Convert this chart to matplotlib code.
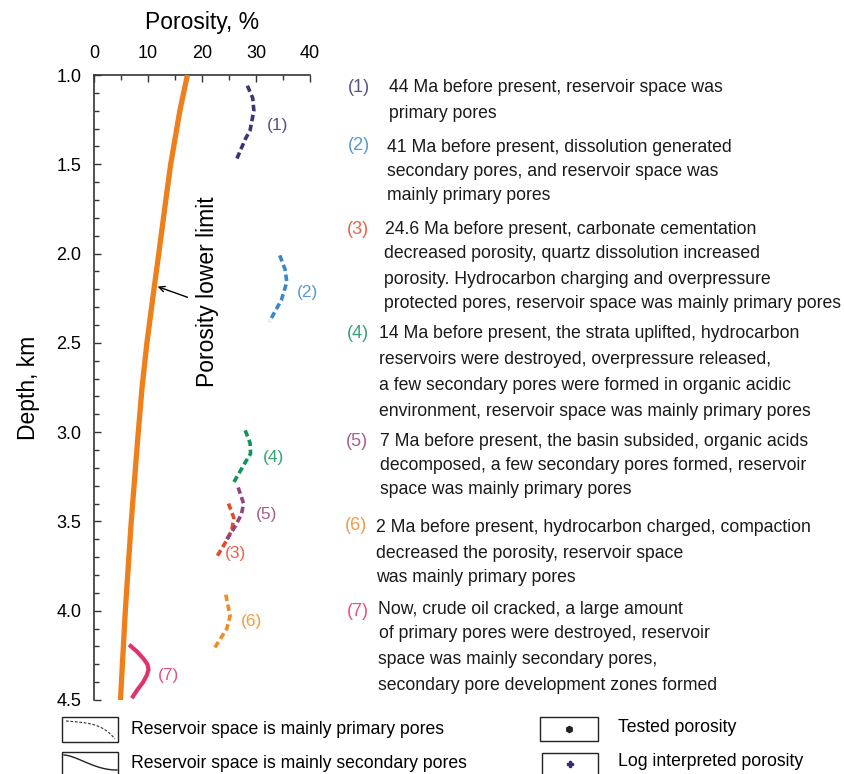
import numpy as np
import matplotlib
matplotlib.use("Agg")
import matplotlib.pyplot as plt
from matplotlib.patches import Rectangle
from matplotlib.ticker import MultipleLocator

plt.rcParams['font.family'] = ['Liberation Sans', 'DejaVu Sans']

# porosity lower limit curve (porosity %, depth km)
limit_depth = [1.0, 1.2, 1.5, 1.7, 2.0, 2.2, 2.5, 2.75, 3.0, 3.5, 4.0, 4.5]
limit_poro = [17.3, 15.9, 14.2, 13.3, 12.0, 11.1, 9.8, 8.9, 8.2, 6.9, 5.8, 4.9]

# porosity evolution curves for each stage
stage_ids = ['(1)', '(2)', '(3)', '(4)', '(5)', '(6)', '(7)']
stage_poro = [
    [28.4, 29.4, 29.6, 28.9, 28.0, 26.3],
    [34.4, 35.4, 35.7, 34.7, 32.5],
    [24.9, 25.9, 25.5, 24.3, 22.7],
    [28.0, 28.9, 29.0, 28.0, 25.9],
    [26.7, 27.7, 27.3, 26.1, 24.6],
    [24.4, 25.2, 24.6, 22.1],
    [6.5, 8.0, 9.2, 9.9, 10.1, 9.8, 9.1, 8.1, 7.0],
]
stage_depth = [
    [1.06, 1.13, 1.20, 1.31, 1.36, 1.48],
    [2.01, 2.09, 2.16, 2.26, 2.38],
    [3.40, 3.48, 3.55, 3.62, 3.70],
    [2.99, 3.06, 3.12, 3.17, 3.28],
    [3.31, 3.40, 3.46, 3.53, 3.60],
    [3.91, 4.03, 4.10, 4.22],
    [4.19, 4.23, 4.27, 4.30, 4.33, 4.36, 4.40, 4.44, 4.49],
]
stage_secondary = [False, False, False, False, False, False, True]
stage_colors = ['#3b3570', '#3a88c8', '#e8482a', '#11935a', '#94447c', '#f08c26', '#e0336e']
label_pos = [(34.0, 1.28), (39.5, 2.22), (26.2, 3.68), (33.2, 3.14),
             (32.0, 3.46), (29.2, 4.06), (13.8, 4.36)]

# stage descriptions: (text line, x pixel, y pixel)
stage_text = [
    [("44 Ma before present, reservoir space was", 389, 88),
     ("primary pores", 389, 113)],
    [("41 Ma before present, dissolution generated", 387, 147),
     ("secondary pores, and reservoir space was", 387, 171),
     ("mainly primary pores", 387, 196)],
    [("24.6 Ma before present, carbonate cementation", 385, 229),
     ("decreased porosity, quartz dissolution increased", 384, 254),
     ("porosity. Hydrocarbon charging and overpressure", 384, 279),
     ("protected pores, reservoir space was mainly primary pores", 384, 304)],
    [("14 Ma before present, the strata uplifted, hydrocarbon", 379, 334),
     ("reservoirs were destroyed, overpressure released,", 379, 360),
     ("a few secondary pores were formed in organic acidic", 379, 386),
     ("environment, reservoir space was mainly primary pores", 379, 411)],
    [("7 Ma before present, the basin subsided, organic acids", 380, 442),
     ("decomposed, a few secondary pores formed, reservoir", 380, 466),
     ("space was mainly primary pores", 380, 490)],
    [("2 Ma before present, hydrocarbon charged, compaction", 376, 528),
     ("decreased the porosity, reservoir space", 376, 553),
     ("was mainly primary pores", 376, 578)],
    [("Now, crude oil cracked, a large amount", 378, 609),
     ("of primary pores were destroyed, reservoir", 379, 634),
     ("space was mainly secondary pores,", 378, 660),
     ("secondary pore development zones formed", 378, 686)],
]
stage_text_id_pos = [(348, 88), (348, 146), (347, 229), (347, 334),
                     (346, 442), (345, 526), (347, 611)]

fig = plt.figure(figsize=(8.45, 7.74), dpi=100)
ax = fig.add_axes([94 / 845, 1 - 700 / 774, 216 / 845, 625 / 774])

ax.plot(limit_poro, limit_depth, color='#ef7f1a', lw=3.8, solid_capstyle='butt',
        solid_joinstyle='round', zorder=3)

for pid, xs, ys, sec, col, (lx, ly) in zip(stage_ids, stage_poro, stage_depth,
                                            stage_secondary, stage_colors, label_pos):
    if sec:
        ax.plot(xs, ys, color=col, lw=3.0, solid_capstyle='butt',
                solid_joinstyle='round', zorder=4)
    else:
        ax.plot(xs, ys, color=col, lw=2.6, linestyle=(0, (1.8, 1.0)), zorder=4)
    ax.text(lx, ly, pid, color=col, fontsize=12.5, ha='center', va='center', alpha=0.85)

ax.annotate('', xy=(11.3, 2.18), xytext=(17.8, 2.25),
            arrowprops=dict(arrowstyle='->', color='black', lw=1.0))
ax.text(21.1, 2.215, 'Porosity lower limit', rotation=90, fontsize=16.5,
        ha='center', va='center')

ax.set_xlim(0, 40)
ax.set_ylim(4.5, 1.0)
ax.xaxis.tick_top()
ax.xaxis.set_label_position('top')
ax.set_xlabel('Porosity, %', fontsize=16.5, labelpad=12)
ax.set_ylabel('Depth, km', fontsize=16.5, labelpad=12)
ax.xaxis.set_major_locator(MultipleLocator(10))
ax.xaxis.set_minor_locator(MultipleLocator(5))
ax.yaxis.set_major_locator(MultipleLocator(0.5))
ax.yaxis.set_minor_locator(MultipleLocator(0.1))
ax.set_yticklabels([f'{v:.1f}' for v in ax.get_yticks()])
ax.tick_params(which='both', direction='in', labelsize=13, color='#333333')
ax.tick_params(which='major', length=5, width=1.0, pad=9)
ax.tick_params(which='minor', length=3.5, width=1.0)
for side in ['right', 'bottom']:
    ax.spines[side].set_visible(False)
for side in ['left', 'top']:
    ax.spines[side].set_color('#333333')
    ax.spines[side].set_linewidth(1.2)

# overlay in pixel coordinates for the descriptions and the key
ov = fig.add_axes([0, 0, 1, 1], facecolor='none')
ov.set_xlim(0, 845)
ov.set_ylim(774, 0)
ov.axis('off')

for pid, col, (px, py), lines in zip(stage_ids, stage_colors, stage_text_id_pos, stage_text):
    ov.text(px, py, pid, color=col, fontsize=13, ha='left', va='center', alpha=0.85)
    for txt, tx, ty in lines:
        ov.text(tx, ty, txt, fontsize=12.7, ha='left', va='center', color='#1a1a1a')

# key boxes
ov.add_patch(Rectangle((62, 717), 56, 25, fill=False, lw=1.0, ec='#222222'))
ov.add_patch(Rectangle((62, 752), 56, 30, fill=False, lw=1.0, ec='#222222'))
ov.add_patch(Rectangle((540, 717), 58, 24, fill=False, lw=1.0, ec='#222222'))
ov.add_patch(Rectangle((542, 753), 56, 30, fill=False, lw=1.0, ec='#222222'))

t = np.linspace(0, 1, 40)
ov.plot(66 + 49 * t, 721 + 4 * t + 14 * t ** 4, color='#333333',
        lw=0.8, linestyle=(0, (2.5, 1.5)))
ov.plot(64 + 53 * t, 755 + 15 * (0.5 - 0.5 * np.cos(np.pi * t ** 0.8)), color='#222222', lw=1.0)
ov.plot([569], [729], marker='h', ms=4.5, color='#222222')
ov.plot([570], [764], marker='P', ms=4.5, color='#3b2a70')

ov.text(131, 730, 'Reservoir space is mainly primary pores', fontsize=12.7, ha='left', va='center')
ov.text(131, 763, 'Reservoir space is mainly secondary pores', fontsize=12.7, ha='left', va='center')
ov.text(618, 727, 'Tested porosity', fontsize=12.7, ha='left', va='center')
ov.text(618, 761, 'Log interpreted porosity', fontsize=12.7, ha='left', va='center')

fig.savefig('out.png', dpi=100)
